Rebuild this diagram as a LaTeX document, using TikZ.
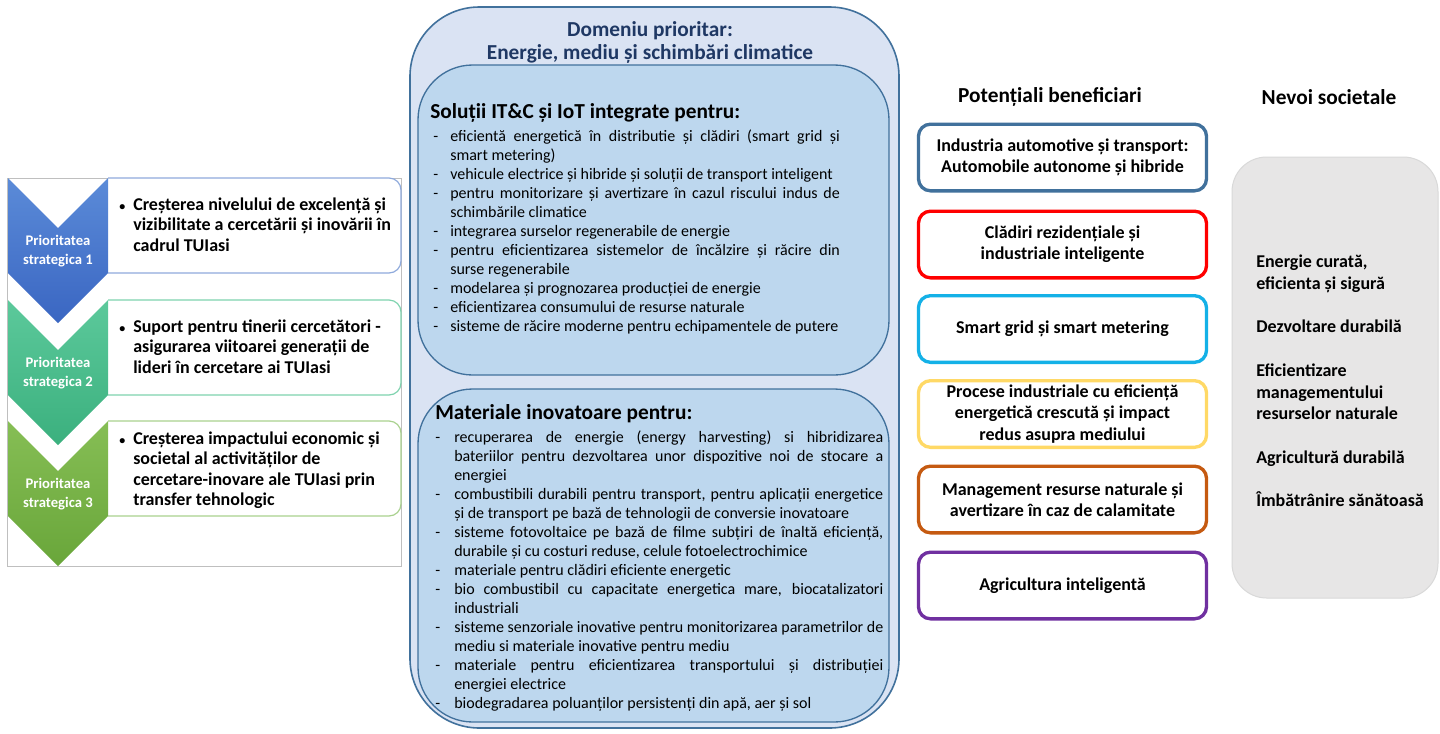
\documentclass[tikz,border=0pt]{standalone}
\usepackage{fontspec}
\setmainfont{Carlito}
\usetikzlibrary{positioning, calc}

\definecolor{domainfill}{HTML}{DAE3F3}
\definecolor{domainline}{HTML}{41719C}
\definecolor{topicfill}{HTML}{BDD7EE}
\definecolor{titlenavy}{HTML}{1F3864}
\definecolor{prio1top}{HTML}{5B8BD8}
\definecolor{prio1bot}{HTML}{3A66C2}
\definecolor{prio2top}{HTML}{5CC99B}
\definecolor{prio2bot}{HTML}{3BB07E}
\definecolor{prio3top}{HTML}{86BE55}
\definecolor{prio3bot}{HTML}{69A63A}
\definecolor{prio1line}{HTML}{8FAADC}
\definecolor{prio2line}{HTML}{7FD3AF}
\definecolor{prio3line}{HTML}{A9D18E}
\definecolor{panelgray}{HTML}{BFBFBF}
\definecolor{benef1}{HTML}{41719C}
\definecolor{benef2}{HTML}{FF0000}
\definecolor{benef3}{HTML}{14B1E7}
\definecolor{benef4}{HTML}{FFD966}
\definecolor{benef5}{HTML}{C55A11}
\definecolor{benef6}{HTML}{7030A0}
\definecolor{needsfill}{HTML}{E7E6E6}
\definecolor{needsline}{HTML}{D9D9D9}

\newlength{\dashhang}
\newcommand{\dashitem}[1]{\par\hangindent=\dashhang\hangafter=1\noindent\makebox[\dashhang][l]{-}#1}
\newcommand{\priobul}{\makebox[10.5pt][l]{\fontsize{9}{9}\selectfont\textbullet}}

\begin{document}
\begin{tikzpicture}[x=0.75pt, y=-0.75pt,
    panel/.style={draw=panelgray, line width=0.75pt},
    chevlbl/.style={text=white, font=\fontsize{11}{14.3}\selectfont\bfseries, align=center, inner sep=0pt},
    priobox/.style={line width=0.9pt, fill=white, rounded corners=9pt},
    priotext/.style={font=\fontsize{13.5}{15.4}\selectfont\bfseries, inner sep=0pt, anchor=base west},
    domainbox/.style={draw=domainline, fill=domainfill, line width=1.2pt, rounded corners=52pt},
    topicbox/.style={draw=domainline, fill=topicfill, line width=1pt, rounded corners=41pt},
    topictitle/.style={font=\fontsize{16}{19}\selectfont\bfseries, inner sep=0pt, anchor=base west},
    topiclist/.style={font=\fontsize{12}{14.3}\selectfont, inner sep=0pt, anchor=base west},
    colhead/.style={font=\fontsize{16}{19}\selectfont\bfseries, inner sep=0pt},
    benefbox/.style={draw=#1, line width=2.5pt, rounded corners=9pt, fill=white,
        minimum width=216pt, minimum height=50pt, align=center, inner sep=2pt,
        font=\fontsize{13.5}{16}\selectfont\bfseries},
    needtext/.style={font=\fontsize{13.5}{16.3}\selectfont\bfseries, align=left, inner sep=0pt, anchor=west}
]
    \fill[white] (0,0) rectangle (1440,733);
    \useasboundingbox (0,0) rectangle (1440,733);

    % Strategic priorities
    \draw[panel] (7,178) rectangle (401,566);

    \foreach \t/\c in {178/prio1line, 300/prio2line, 421/prio3line} {
        \filldraw[priobox, draw=\c] (108,\t) -- (401,\t) -- (401,\t+95) -- (108,\t+95);
    }

    \foreach \t/\c in {178/prio1, 300/prio2, 421/prio3} {
        \shade[top color=\c top, bottom color=\c bot]
            (8,\t) -- (58,\t+50) -- (108,\t) -- (108,\t+95) -- (58,\t+145) -- (8,\t+95) -- cycle;
    }

    \node[chevlbl] (lbl1) at (58,251) {Prioritatea\\strategica 1};
    \node[chevlbl] (lbl2) at (58,373) {Prioritatea\\strategica 2};
    \node[chevlbl] (lbl3) at (58,494) {Prioritatea\\strategica 3};

    \node[priotext] (prio1) at (119,210) {\begin{tabular}[t]{@{}l@{}l@{}}
        \priobul & Creșterea nivelului de excelență și\\
        & vizibilitate a cercetării și inovării în\\
        & cadrul TUIasi\end{tabular}};
    \node[priotext] (prio2) at (119,332) {\begin{tabular}[t]{@{}l@{}l@{}}
        \priobul & Suport pentru tinerii cercetători -\\
        & asigurarea viitoarei generații de\\
        & lideri în cercetare ai TUIasi\end{tabular}};
    \node[priotext] (prio3) at (119,444) {\begin{tabular}[t]{@{}l@{}l@{}}
        \priobul & Creșterea impactului economic și\\
        & societal al activităților de\\
        & cercetare-inovare ale TUIasi prin\\
        & transfer tehnologic\end{tabular}};

    % Priority domain
    \draw[domainbox] (410,7) rectangle (899,728);
    \node[font=\fontsize{16}{17.3}\selectfont\bfseries, text=titlenavy, align=center, inner sep=0pt]
        (domtitle) at (650,42) {Domeniu prioritar:\\Energie, mediu și schimbări climatice};

    \draw[topicbox] (418,65) rectangle (889,375);
    \node[topictitle] (ittitle) at (430,118) {Soluții IT\&C și IoT integrate pentru:};
    \setlength{\dashhang}{12.75pt}
    \node[topiclist] (itlist) at (433,141) {\parbox[t]{305pt}{%
        \dashitem{eficientă energetică în distributie și clădiri (smart grid și\linebreak smart metering)}
        \dashitem{vehicule electrice și hibride și soluții de transport inteligent}
        \dashitem{pentru monitorizare și avertizare în cazul riscului indus de\linebreak schimbările climatice}
        \dashitem{integrarea surselor regenerabile de energie}
        \dashitem{pentru eficientizarea sistemelor de încălzire și răcire din\linebreak surse regenerabile}
        \dashitem{modelarea și prognozarea producției de energie}
        \dashitem{eficientizarea consumului de resurse naturale}
        \dashitem{sisteme de răcire moderne pentru echipamentele de putere}}};

    \draw[topicbox] (418,389) rectangle (889,722);
    \node[topictitle] (mattitle) at (435,419) {Materiale inovatoare pentru:};
    \node[topiclist] (matlist) at (435,442) {\setlength{\dashhang}{14.25pt}\parbox[t]{336pt}{%
        \dashitem{recuperarea de energie (energy harvesting) si hibridizarea\linebreak bateriilor pentru dezvoltarea unor dispozitive noi de stocare a\linebreak energiei}
        \dashitem{combustibili durabili pentru transport, pentru aplicații energetice\linebreak și de transport pe bază de tehnologii de conversie inovatoare}
        \dashitem{sisteme fotovoltaice pe bază de filme subțiri de înaltă eficiență,\linebreak durabile și cu costuri reduse, celule fotoelectrochimice}
        \dashitem{materiale pentru clădiri eficiente energetic}
        \dashitem{bio combustibil cu capacitate energetica mare, biocatalizatori\linebreak industriali}
        \dashitem{sisteme senzoriale inovative pentru monitorizarea parametrilor de\linebreak mediu si materiale inovative pentru mediu}
        \dashitem{materiale pentru eficientizarea transportului și distribuției\linebreak energiei electrice}
        \dashitem{biodegradarea poluanților persistenți din apă, aer și sol}}};

    % Potential beneficiaries
    \node[colhead] (benhead) at (1050,97) {Potențiali beneficiari};
    \node[benefbox=benef1] (ben1) at (1062.5,157.5) {Industria automotive și transport:\\Automobile autonome și hibride};
    \node[benefbox=benef2] (ben2) at (1062.5,244.5) {Clădiri rezidențiale și\\industriale inteligente};
    \node[benefbox=benef3] (ben3) at (1062.5,329) {Smart grid și smart metering};
    \node[benefbox=benef4] (ben4) at (1062.5,414) {Procese industriale cu eficiență\\energetică crescută și impact\\redus asupra mediului};
    \node[benefbox=benef5] (ben5) at (1062.5,499.5) {Management resurse naturale și\\avertizare în caz de calamitate};
    \node[benefbox=benef6] (ben6) at (1062.5,585.5) {Agricultura inteligentă};

    % Societal needs
    \node[colhead] (needhead) at (1329,97) {Nevoi societale};
    \draw[fill=needsfill, draw=needsline, line width=0.75pt, rounded corners=26pt] (1232,157) rectangle (1438,598);
    \node[needtext] (needs) at (1256,381) {Energie curată,\\eficienta și sigură\\[16.3pt]
        Dezvoltare durabilă\\[16.3pt]
        Eficientizare\\managementului\\resurselor naturale\\[16.3pt]
        Agricultură durabilă\\[16.3pt]
        Îmbătrânire sănătoasă};
\end{tikzpicture}
\end{document}
